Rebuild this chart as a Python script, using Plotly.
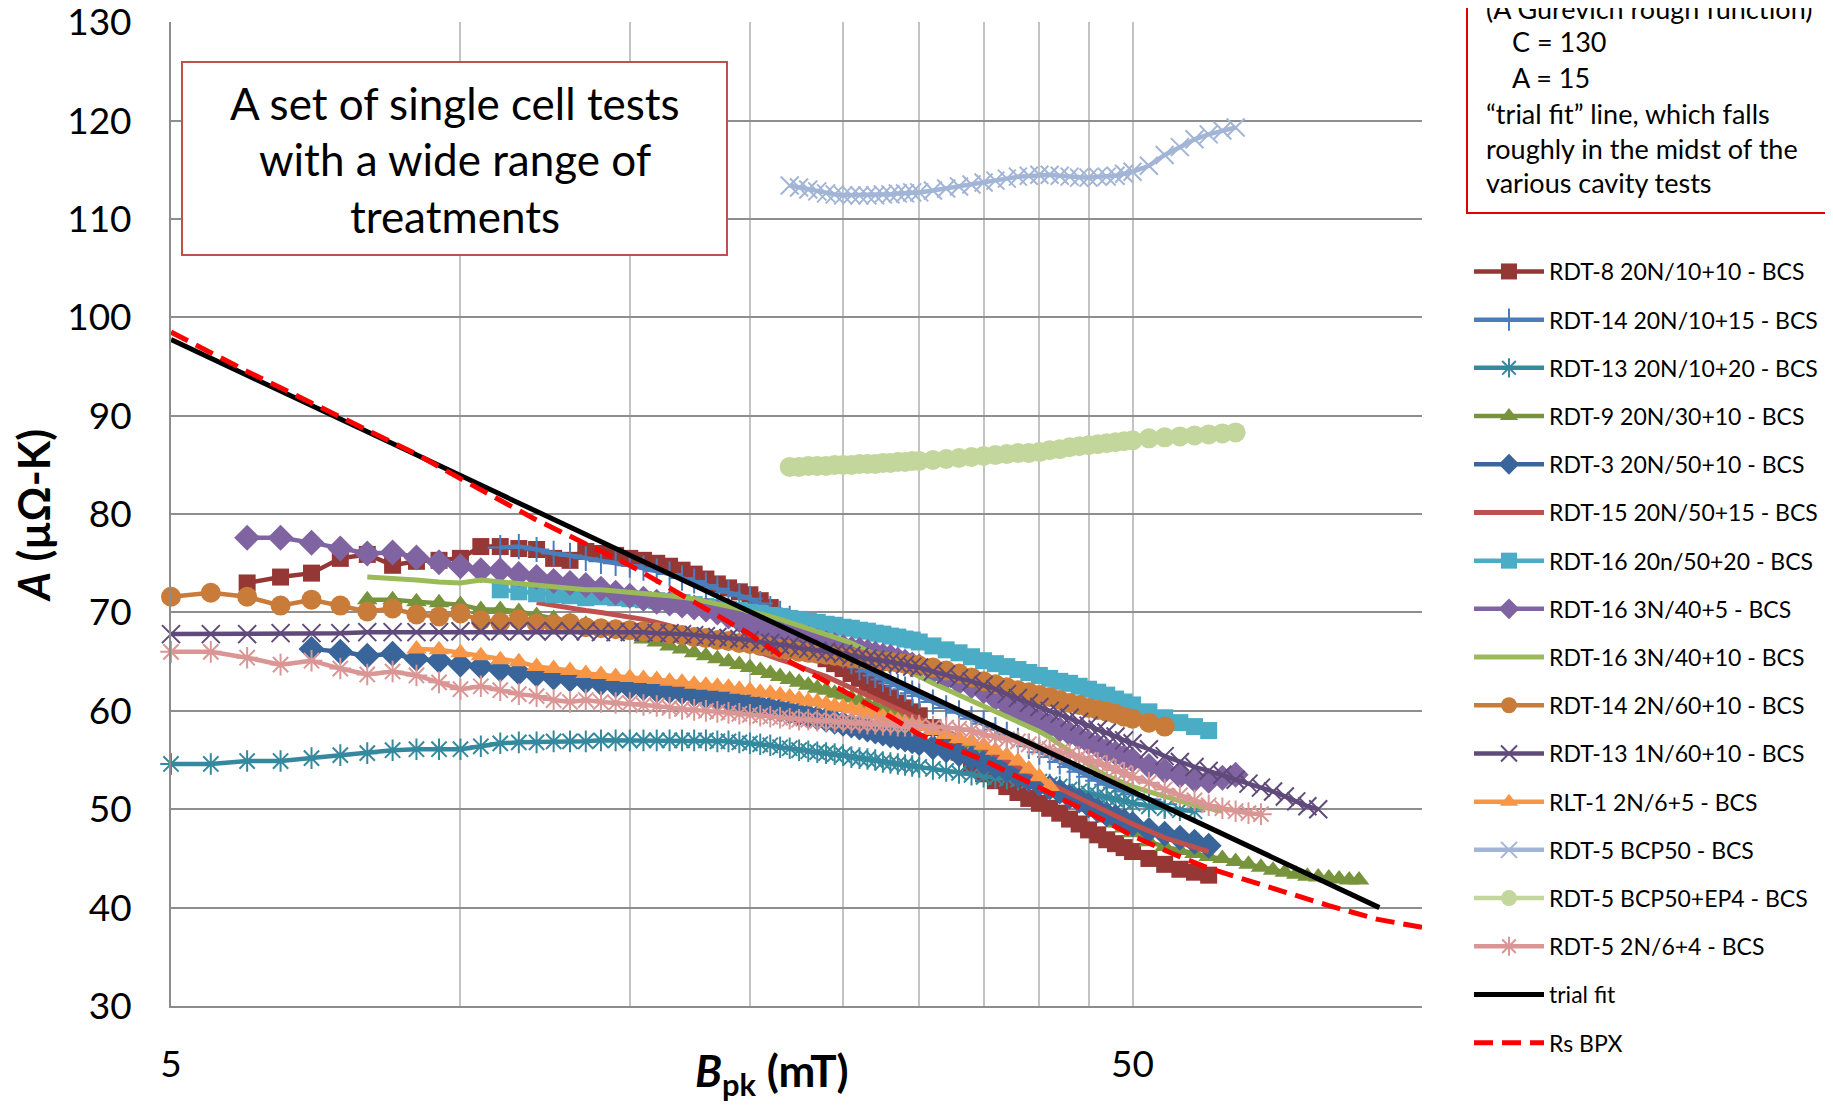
import plotly.graph_objects as go

# ---------------- data ----------------
# shared field grid (mT): 0.5 mT steps to 30, 1 mT to 50, 2 mT beyond
B_GRID = [5.0, 5.5, 6.0, 6.5, 7.0, 7.5, 8.0, 8.5, 9.0, 9.5, 10.0, 10.5, 11.0, 11.5, 12.0,
          12.5, 13.0, 13.5, 14.0, 14.5, 15.0,
          15.5, 16.0, 16.5, 17.0, 17.5, 18.0, 18.5, 19.0, 19.5, 20.0,
          20.5, 21.0, 21.5, 22.0, 22.5, 23.0, 23.5, 24.0, 24.5, 25.0,
          25.5, 26.0, 26.5, 27.0, 27.5, 28.0, 28.5, 29.0, 29.5, 30.0,
          31, 32, 33, 34, 35, 36, 37, 38, 39, 40, 41, 42, 43, 44, 45, 46, 47, 48, 49, 50,
          52, 54, 56, 58, 60, 62, 64, 66, 68, 70, 72, 74, 76, 78, 80, 82, 84, 86, 88, 90]

RDT8_START = 6.0
RDT8_A = [73.0, 73.6, 74.0, 75.5, 75.9, 74.8, 75.2, 75.3, 75.5, 76.7, 76.7, 76.5, 76.4, 75.5,
          75.3, 76.2, 76.0, 75.8, 75.5,
          75.3, 75.0, 74.7, 74.3, 73.9, 73.4, 72.9, 72.5, 72.1, 71.8,
          71.2, 70.5, 69.5, 68.5, 67.5, 66.5, 65.8, 65.3, 64.8, 64.3,
          63.8, 63.3, 62.8, 62.3, 61.8, 61.3, 60.8, 60.3, 59.9, 59.5,
          58.3, 57.0, 55.8, 54.6, 53.6, 52.9, 52.3, 51.7, 51.1, 50.6,
          50.1, 49.6, 49.0, 48.5, 47.9, 47.4, 46.9, 46.5, 46.1, 45.7,
          45.0, 44.4, 43.9, 43.6, 43.3]

RDT14A_START = 11.0
RDT14A_A = [76.6, 76.7, 76.4, 76.0, 75.8, 75.5, 75.2, 75.0, 74.8,
            74.5, 74.2, 73.9, 73.5, 73.2, 72.8, 72.4, 72.0, 71.7, 71.4,
            70.9, 70.4, 69.9, 69.4, 68.8, 68.2, 67.6, 67.0, 66.3, 65.6,
            65.0, 64.4, 64.0, 63.6, 63.2, 62.8, 62.5, 62.2, 61.8, 61.5,
            60.9, 60.3, 59.8, 59.2, 58.7, 58.1, 57.6, 57.0, 56.4, 55.8,
            55.3, 54.8, 54.3, 53.8, 53.3, 52.9, 52.5, 52.2, 51.8, 51.5,
            51.0, 50.5]

RDT13A_START = 5.0
RDT13A_A = [54.6, 54.6, 54.9, 54.9, 55.2, 55.5, 55.7, 56.0, 56.1, 56.1, 56.1, 56.4, 56.7,
            56.8, 56.8, 56.9, 56.9, 56.9, 57.0, 57.0, 57.0,
            57.0, 57.0, 57.0, 57.0, 57.0, 57.0, 56.9, 56.9, 56.8, 56.7,
            56.6, 56.5, 56.3, 56.2, 56.0, 55.9, 55.8, 55.7, 55.6, 55.5,
            55.3, 55.2, 55.1, 55.0, 54.8, 54.7, 54.6, 54.5, 54.4, 54.3,
            54.1, 53.9, 53.7, 53.5, 53.3, 53.2, 53.1, 53.0, 52.9, 52.8,
            52.5, 52.3, 52.0, 51.8, 51.6, 51.4, 51.2, 51.0, 50.8, 50.6,
            50.3, 50.1, 49.9, 49.8]

RDT9_START = 8.0
RDT9_A = [71.3, 71.3, 71.1, 71.0, 70.8, 70.3, 70.3, 70.1, 69.7, 69.4, 69.1, 68.8, 68.5,
          68.1, 67.7,
          67.3, 67.0, 66.6, 66.3, 65.9, 65.6, 65.3, 65.0, 64.7, 64.4,
          64.1, 63.8, 63.5, 63.2, 62.9, 62.6, 62.3, 62.1, 61.8, 61.6,
          61.3, 61.0, 60.7, 60.4, 60.1, 59.8, 59.5, 59.2, 58.9, 58.6,
          58.1, 57.6, 57.1, 56.7, 56.2, 55.6, 55.0, 54.4, 53.8, 53.2,
          52.6, 52.0, 51.4, 50.8, 50.2, 49.7, 49.1, 48.6, 48.1, 47.6,
          46.7, 46.2, 45.8, 45.5, 45.2, 45.0, 44.7, 44.4, 44.1, 43.8, 43.6, 43.4, 43.2,
          43.1, 43.0, 42.9, 42.8, 42.8]

RDT3_START = 7.0
RDT3_A = [66.3, 66.0, 65.6, 65.8, 65.3, 65.1, 64.7, 64.5, 64.2, 63.9, 63.7, 63.4, 63.2,
          63.0, 62.8, 62.6, 62.4,
          62.3, 62.1, 62.0, 61.9, 61.7, 61.5, 61.3, 61.1, 60.9, 60.7,
          60.5, 60.3, 60.1, 59.9, 59.7, 59.5, 59.3, 59.1, 58.9, 58.7,
          58.5, 58.3, 58.1, 57.9, 57.7, 57.5, 57.3, 57.1, 56.9, 56.7,
          56.3, 56.0, 55.6, 55.2, 54.8, 54.4, 54.0, 53.5, 53.1, 52.6,
          52.2, 51.8, 51.3, 50.9, 50.4, 49.9, 49.5, 49.2, 48.8, 48.5,
          47.9, 47.5, 47.1, 46.7, 46.3]

RDT15_START = 12.0
RDT15_A = [71.0, 70.7, 70.5, 70.2, 70.0, 69.8, 69.6,
           69.3, 69.0, 68.7, 68.4, 68.0, 67.7, 67.3, 67.0, 66.6, 66.3,
           65.9, 65.6, 65.2, 64.9, 64.5, 64.2, 63.8, 63.5, 63.1, 62.8,
           62.4, 62.0, 61.6, 61.3, 60.9, 60.6, 60.2, 59.9, 59.5, 59.2,
           58.6, 58.0, 57.4, 56.8, 56.2, 55.6, 55.0, 54.4, 53.8, 53.2,
           52.6, 52.1, 51.6, 51.1, 50.6, 50.2, 49.7, 49.3, 48.9, 48.5,
           47.8, 47.1, 46.6, 46.1, 45.7]

RDT16A_START = 11.0
RDT16A_A = [72.3, 72.1, 71.9, 71.8, 71.7, 71.5, 71.6, 71.5, 71.4,
            71.3, 71.2, 71.1, 71.0, 70.8, 70.6, 70.5, 70.3, 70.2, 70.0,
            69.9, 69.7, 69.6, 69.4, 69.3, 69.1, 69.0, 68.8, 68.7, 68.5,
            68.4, 68.2, 68.1, 67.9, 67.8, 67.6, 67.5, 67.3, 67.2, 67.0,
            66.6, 66.2, 65.9, 65.5, 65.1, 64.8, 64.5, 64.2, 63.9, 63.6,
            63.3, 63.0, 62.8, 62.5, 62.2, 61.9, 61.6, 61.2, 60.9, 60.6,
            59.9, 59.3, 58.8, 58.4, 58.0]

RDT16B_START = 6.0
RDT16B_A = [77.6, 77.6, 77.1, 76.5, 76.0, 76.1, 75.6, 75.1, 74.7, 74.3, 74.3, 73.9, 73.6,
            73.2, 73.0, 72.8, 72.4, 72.0, 71.7,
            71.4, 71.1, 70.9, 70.7, 70.5, 70.3, 70.0, 69.6, 69.2, 68.8,
            68.5, 68.3, 68.0, 67.8, 67.6, 67.4, 67.1, 66.9, 66.7, 66.5,
            66.3, 66.2, 66.0, 65.8, 65.6, 65.5, 65.2, 65.0, 64.7, 64.5,
            64.0, 63.4, 62.9, 62.5, 62.0, 61.3, 60.7, 60.0, 59.4, 58.9,
            58.5, 58.1, 57.7, 57.3, 56.8, 56.4, 56.0, 55.7, 55.3, 55.0,
            54.4, 53.9, 53.4, 53.0, 52.9, 53.2, 53.5]

RDT16C_START = 8.0
RDT16C_A = [73.6, 73.5, 73.3, 73.1, 73.0, 73.3, 73.1, 73.0, 72.8, 72.6, 72.4, 72.3, 72.3,
            72.2, 72.1,
            72.0, 71.8, 71.7, 71.6, 71.4, 71.1, 70.9, 70.6, 70.4, 70.1,
            69.9, 69.6, 69.3, 69.0, 68.7, 68.4, 68.1, 67.8, 67.5, 67.2,
            66.9, 66.5, 66.2, 65.8, 65.4, 65.0, 64.6, 64.2, 63.9, 63.5,
            62.8, 62.2, 61.6, 61.0, 60.4, 59.9, 59.4, 58.9, 58.4, 57.9,
            57.3, 56.6, 55.8, 55.1, 54.5, 53.9, 53.4, 53.0, 52.6, 52.3,
            51.8, 51.3, 50.8, 50.4, 50.1, 49.8]

RDT14B_START = 5.0
RDT14B_A = [71.6, 72.0, 71.6, 70.7, 71.3, 70.7, 70.1, 70.4, 69.8, 69.6, 69.9, 69.2, 69.0,
            69.3, 68.9, 68.8, 68.9, 68.5, 68.4, 68.3, 68.2,
            68.1, 68.0, 67.8, 67.7, 67.5, 67.4, 67.2, 67.1, 66.9, 66.8,
            66.6, 66.5, 66.3, 66.2, 66.0, 65.9, 65.8, 65.7, 65.6, 65.5,
            65.4, 65.3, 65.2, 65.1, 65.0, 65.0, 64.9, 64.8, 64.7, 64.6,
            64.4, 64.1, 63.8, 63.4, 63.0, 62.7, 62.4, 62.1, 61.9, 61.6,
            61.4, 61.1, 60.8, 60.6, 60.3, 60.1, 59.9, 59.7, 59.4, 59.2,
            58.8, 58.4]

RDT13B_START = 5.0
RDT13B_A = [67.8, 67.8, 67.8, 67.9, 67.9, 67.9, 68.0, 68.0, 68.0, 68.0, 68.1, 68.1, 68.1,
            68.1, 68.1, 68.1, 68.1, 68.1, 68.0, 68.0, 68.0,
            68.0, 67.9, 67.9, 67.8, 67.7, 67.6, 67.5, 67.4, 67.3, 67.2,
            67.0, 66.9, 66.7, 66.6, 66.4, 66.3, 66.1, 66.0, 65.9, 65.8,
            65.6, 65.5, 65.3, 65.2, 65.1, 65.0, 64.8, 64.7, 64.5, 64.4,
            64.0, 63.7, 63.3, 63.0, 62.6, 62.2, 61.7, 61.3, 60.8, 60.4,
            60.0, 59.7, 59.3, 58.9, 58.5, 58.1, 57.8, 57.4, 57.0, 56.7,
            56.1, 55.4, 54.8, 54.3, 53.9, 53.5, 53.0, 52.6, 52.2, 51.8, 51.3, 50.8, 50.3,
            50.0]

RLT1_START = 9.0
RLT1_A = [66.3, 66.2, 65.9, 65.6, 65.2, 65.0, 64.5, 64.3, 64.1, 63.8, 63.7, 63.5, 63.4,
          63.3, 63.2, 63.0, 62.9, 62.7, 62.6, 62.5, 62.4, 62.2, 62.1,
          61.9, 61.8, 61.6, 61.4, 61.2, 61.0, 60.9, 60.7, 60.5, 60.4,
          60.2, 60.0, 59.8, 59.6, 59.4, 59.2, 59.0, 58.8, 58.6, 58.4,
          58.0, 57.6, 57.2, 56.9, 56.5, 56.0, 55.5, 54.9, 54.1, 53.3, 52.3]

BCP50_START = 22.0
BCP50_A = [113.4, 113.2, 113.0, 112.8, 112.6, 112.5, 112.4, 112.4, 112.4, 112.4, 112.4,
           112.5, 112.5, 112.6, 112.6, 112.7, 112.7,
           112.9, 113.1, 113.3, 113.5, 113.7, 113.9, 114.1, 114.3, 114.4, 114.5,
           114.5, 114.4, 114.3, 114.2, 114.2, 114.3, 114.3, 114.4, 114.6, 114.8,
           115.4, 116.5, 117.3, 118.1, 118.6, 119.0, 119.3]

BCP50EP_START = 22.0
BCP50EP_A = [84.8, 84.8, 84.9, 84.9, 84.9, 85.0, 85.0, 85.0, 85.1, 85.1, 85.1, 85.2, 85.2,
             85.3, 85.3, 85.4, 85.4,
             85.5, 85.6, 85.7, 85.8, 85.9, 86.0, 86.1, 86.2, 86.2, 86.3,
             86.5, 86.6, 86.8, 86.9, 87.0, 87.1, 87.2, 87.3, 87.4, 87.5,
             87.7, 87.8, 87.9, 88.0, 88.1, 88.2, 88.3]

RDT5N_START = 5.0
RDT5N_A = [66.0, 66.0, 65.4, 64.7, 65.1, 64.3, 63.7, 64.0, 63.6, 62.9, 62.2, 62.5, 62.1,
           61.7, 61.5, 61.1, 60.9, 61.1, 60.9, 60.8, 60.8,
           60.6, 60.5, 60.3, 60.2, 60.1, 60.0, 59.9, 59.8, 59.7, 59.6,
           59.5, 59.4, 59.3, 59.2, 59.1, 59.1, 59.0, 59.0, 58.9, 58.9,
           58.8, 58.8, 58.7, 58.7, 58.6, 58.6, 58.5, 58.5, 58.5, 58.5,
           58.4, 58.3, 58.2, 58.0, 57.6, 57.4, 57.1, 56.9, 56.6, 56.3,
           56.1, 55.8, 55.6, 55.3, 55.0, 54.7, 54.4, 54.0, 53.7, 53.3,
           52.7, 52.0, 51.4, 50.9, 50.4, 50.1, 49.8, 49.6, 49.5]

TRIAL_B = [5, 10, 20, 30, 40, 50, 60, 70, 80, 90.3]
TRIAL_A = [97.75, 83.9, 70.1, 62.0, 56.3, 51.8, 48.2, 45.1, 42.4, 40.0]

RS_B = [5, 6, 7, 8, 9, 10, 12, 15, 17.5, 20, 22, 25, 28, 30, 35, 40, 45, 50, 55, 60, 70,
        80, 90, 100]
RS_A = [98.5, 94.5, 91.3, 88.6, 86.1, 83.6, 79.4, 74.8, 71.0, 67.8, 65.0, 62.1, 59.4, 57.6,
        55.0, 52.2, 49.7, 47.3, 45.5, 44.0, 41.9, 40.2, 38.8, 38.0]

X_TICKS = [5, 10, 15, 20, 25, 30, 35, 40, 45, 50, 100]
X_TICKTEXT = ["5", " ", " ", " ", " ", " ", " ", " ", " ", "50", " "]
Y_TICKS = [30, 40, 50, 60, 70, 80, 90, 100, 110, 120, 130]

# name, colour, symbol, marker size, start, values
SERIES = [
    ("RDT-8 20N/10+10 - BCS", "#953735", "square", 17, RDT8_START, RDT8_A),
    ("RDT-14 20N/10+15 - BCS", "#4A7EBB", "cross-thin-open", 18, RDT14A_START, RDT14A_A),
    ("RDT-13 20N/10+20 - BCS", "#35899E", "asterisk-open", 18, RDT13A_START, RDT13A_A),
    ("RDT-9 20N/30+10 - BCS", "#77933C", "triangle-up", 18, RDT9_START, RDT9_A),
    ("RDT-3 20N/50+10 - BCS", "#3A659A", "diamond", 20, RDT3_START, RDT3_A),
    ("RDT-15 20N/50+15 - BCS", "#C0504D", None, 0, RDT15_START, RDT15_A),
    ("RDT-16 20n/50+20 - BCS", "#4BACC6", "square", 17, RDT16A_START, RDT16A_A),
    ("RDT-16 3N/40+5 - BCS", "#8064A2", "diamond", 20, RDT16B_START, RDT16B_A),
    ("RDT-16 3N/40+10 - BCS", "#9BBB59", None, 0, RDT16C_START, RDT16C_A),
    ("RDT-14 2N/60+10 - BCS", "#C97B3A", "circle", 20, RDT14B_START, RDT14B_A),
    ("RDT-13 1N/60+10 - BCS", "#604A7B", "x-thin-open", 18, RDT13B_START, RDT13B_A),
    ("RLT-1 2N/6+5 - BCS", "#F79646", "triangle-up", 18, RLT1_START, RLT1_A),
    ("RDT-5 BCP50 - BCS", "#A2B5D6", "x-thin-open", 18, BCP50_START, BCP50_A),
    ("RDT-5 BCP50+EP4 - BCS", "#C3D69B", "circle", 20, BCP50EP_START, BCP50EP_A),
    ("RDT-5 2N/6+4 - BCS", "#D99694", "asterisk-open", 18, RDT5N_START, RDT5N_A),
]

FONT = "Lato, 'Open Sans', sans-serif"

# ---------------- figure ----------------
# The page body has an 8 px default margin; all layout numbers below are in
# screen pixels and are converted into figure pixels by subtracting it.
OFF = 8
W, H = 1833 - OFF, 1106 - OFF
PLOT_L, PLOT_R, PLOT_T, PLOT_B = 171, 1422, 22, 1006   # screen pixels
L, T = PLOT_L - OFF, PLOT_T - OFF
R, B = W - (PLOT_R - OFF), H - (PLOT_B - OFF)
PW, PH = W - L - R, H - T - B


def px(x):
    return (x - OFF - L) / PW


def py(y):
    return 1 - (y - OFF - T) / PH


fig = go.Figure()

for i, (name, color, sym, msize, start, vals) in enumerate(SERIES):
    i0 = B_GRID.index(start)
    xs = B_GRID[i0:i0 + len(vals)]
    assert len(xs) == len(vals), name
    if sym is None:
        fig.add_trace(go.Scatter(x=xs, y=vals, name=name, mode="lines",
                                 line=dict(color=color, width=5),
                                 legendgroup=f"g{i}", cliponaxis=False))
    else:
        if sym.endswith("open"):
            marker = dict(symbol=sym, size=msize, color=color,
                          line=dict(color=color, width=2))
        else:
            marker = dict(symbol=sym, size=msize, color=color,
                          line=dict(color=color, width=0))
        fig.add_trace(go.Scatter(x=xs, y=vals, name=name, mode="lines+markers",
                                 line=dict(color=color, width=4.5), marker=marker,
                                 legendgroup=f"g{i}", cliponaxis=False))

fig.add_trace(go.Scatter(x=TRIAL_B, y=TRIAL_A, name="trial fit", mode="lines",
                         line=dict(color="#000000", width=5),
                         legendgroup="gt", cliponaxis=False))
fig.add_trace(go.Scatter(x=RS_B, y=RS_A, name="Rs BPX", mode="lines",
                         line=dict(color="#FF0000", width=5, dash="19px,9px"),
                         legendgroup="gr", cliponaxis=False))

fig.update_layout(
    width=W, height=H,
    margin=dict(l=L, r=R, t=T, b=B, pad=0, autoexpand=False),
    paper_bgcolor="white", plot_bgcolor="white",
    font=dict(family=FONT, color="black"),
    showlegend=True,
    legend=dict(x=px(1469), y=py(250), xanchor="left", yanchor="top",
                font=dict(family=FONT, size=23, color="black"),
                traceorder="grouped", tracegroupgap=15.3,
                bgcolor="rgba(0,0,0,0)", borderwidth=0, itemwidth=70),
    xaxis=dict(type="log", range=[0.69897, 2.0], tickmode="array",
               tickvals=X_TICKS, ticktext=X_TICKTEXT, automargin=False,
               showgrid=True, gridcolor="#c3c3c3", gridwidth=2,
               showline=True, linecolor="#8c8c8c", linewidth=2,
               ticks="", ticklabelstandoff=25, zeroline=False,
               ticklabeloverflow="allow",
               tickfont=dict(family=FONT, size=37, color="black")),
    yaxis=dict(range=[30, 130.02], tickmode="array", tickvals=Y_TICKS,
               automargin=False,
               showgrid=True, gridcolor="#8e8e8e", gridwidth=2,
               showline=True, linecolor="#8c8c8c", linewidth=2,
               ticks="", ticklabelstandoff=30, zeroline=False,
               ticklabeloverflow="allow",
               tickfont=dict(family=FONT, size=37, color="black")),
)

shapes = [
    dict(type="rect", xref="paper", yref="paper", x0=px(182), x1=px(727),
         y0=py(255), y1=py(62), fillcolor="white",
         line=dict(color="#C0504D", width=2), layer="above"),
    dict(type="rect", xref="paper", yref="paper", x0=px(1467), x1=px(1860),
         y0=py(213), y1=py(-20), fillcolor="white",
         line=dict(color="#E00000", width=2), layer="above"),
]
fig.update_layout(shapes=shapes)

annotations = []
for txt, yy in [("A set of single cell tests", 103), ("with a wide range of", 159),
                ("treatments", 216)]:
    annotations.append(dict(text=txt, xref="paper", yref="paper", x=px(454.5), y=py(yy),
                            xanchor="center", yanchor="middle", showarrow=False,
                            font=dict(family=FONT, size=44, color="black")))

for txt, xx, yy in [("(A Gurevich rough function)", 1484, 8),
                    ("C = 130", 1510, 42), ("A = 15", 1510, 77),
                    ("\u201ctrial fit\u201d line, which falls", 1484, 113),
                    ("roughly in the midst of the", 1484, 148),
                    ("various cavity tests", 1484, 183)]:
    annotations.append(dict(text=txt, xref="paper", yref="paper", x=px(xx), y=py(yy),
                            xanchor="left", yanchor="middle", showarrow=False,
                            font=dict(family=FONT, size=27, color="black")))

annotations.append(dict(text="<b><i>A</i> (\u00b5\u03a9-K)</b>", xref="paper", yref="paper",
                        x=px(33), y=py(516), xanchor="center", yanchor="middle",
                        textangle=-90, showarrow=False,
                        font=dict(family=FONT, size=43, color="black")))
annotations.append(dict(text="<b><i>B</i></b><sub><b>pk</b></sub><b> (mT)</b>",
                        xref="paper", yref="paper", x=px(772), y=py(1073),
                        xanchor="center", yanchor="middle", showarrow=False,
                        font=dict(family=FONT, size=44, color="black")))
fig.update_layout(annotations=annotations)

fig.write_html("out.html")
